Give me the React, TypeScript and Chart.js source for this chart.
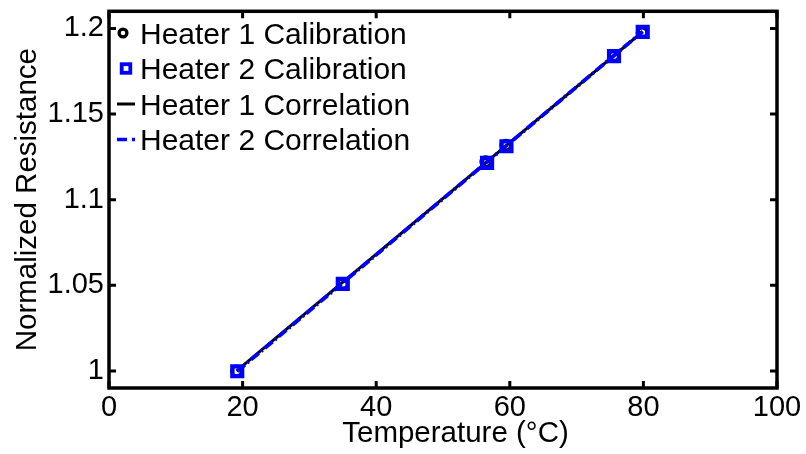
import React, { useEffect, useRef } from "react";
import { Chart, registerables } from "chart.js";

Chart.register(...registerables);

const FONT = '"Liberation Sans", Arial, Helvetica, sans-serif';
const TICK_SIZE = 29;
const TITLE_SIZE = 29.5;
const LEGEND_SIZE = 30;

// Calibration measurements (temperature in °C, normalized resistance)
const heater1Temp = [19.1, 35.0, 56.4, 59.4, 75.6, 79.8];
const heater1Res = [1.0, 1.051, 1.1222, 1.1318, 1.184, 1.1975];
const heater2Temp = [19.2, 35.0, 56.6, 59.5, 75.6, 79.9];
const heater2Res = [0.9998, 1.0508, 1.1215, 1.1312, 1.1838, 1.198];

// Linear correlation lines (end points)
const fit1Temp = [19.1, 79.8];
const fit1Res = [1.0, 1.1978];
const fit2Temp = [19.2, 79.9];
const fit2Res = [0.9998, 1.1982];

const seriesNames = [
  "Heater 1 Calibration",
  "Heater 2 Calibration",
  "Heater 1 Correlation",
  "Heater 2 Correlation",
];

const xTicks = [0, 20, 40, 60, 80, 100];
const yTicks = [1, 1.05, 1.1, 1.15, 1.2];
const xRange = [0, 100];
const yRange = [0.99, 1.21];
const xTitle = "Temperature (°C)";
const yTitle = "Normalized Resistance";

const BLUE = "#0000ff";

const toPoints = (xs: number[], ys: number[]) => xs.map((x, i) => ({ x, y: ys[i] }));

// Box frame with inward tick marks on all four sides, axis titles and legend
const framePlugin = {
  id: "frameAndLegend",
  afterDraw(chart: any) {
    const { ctx, chartArea: a, scales } = chart;
    const xs = scales.x;
    const ys = scales.y;
    ctx.save();
    ctx.strokeStyle = "#000";
    ctx.lineWidth = 3.5;
    ctx.lineJoin = "miter";
    ctx.strokeRect(a.left, a.top, a.right - a.left, a.bottom - a.top);

    const tl = 7;
    ctx.lineWidth = 3;
    ctx.lineCap = "butt";
    ctx.beginPath();
    xTicks.forEach((v) => {
      const px = xs.getPixelForValue(v);
      ctx.moveTo(px, a.bottom);
      ctx.lineTo(px, a.bottom - tl);
      ctx.moveTo(px, a.top);
      ctx.lineTo(px, a.top + tl);
    });
    yTicks.forEach((v) => {
      const py = ys.getPixelForValue(v);
      ctx.moveTo(a.left, py);
      ctx.lineTo(a.left + tl, py);
      ctx.moveTo(a.right, py);
      ctx.lineTo(a.right - tl, py);
    });
    ctx.stroke();

    // axis titles
    ctx.fillStyle = "#000";
    ctx.font = `${TITLE_SIZE}px ${FONT}`;
    ctx.textBaseline = "alphabetic";
    ctx.textAlign = "center";
    ctx.fillText(xTitle, 455.5, 442);
    ctx.save();
    ctx.translate(36, (a.top + a.bottom) / 2);
    ctx.rotate(-Math.PI / 2);
    ctx.fillText(yTitle, 0, 0);
    ctx.restore();

    // legend
    const rowY = [33, 68.5, 104, 139.5];
    const textX = 140;
    ctx.font = `${LEGEND_SIZE}px ${FONT}`;
    ctx.textAlign = "left";
    seriesNames.forEach((name, i) => {
      ctx.fillStyle = "#000";
      ctx.fillText(name, textX, rowY[i] + 10.6);
    });
    // circle marker
    ctx.strokeStyle = "#000";
    ctx.lineWidth = 3.3;
    ctx.beginPath();
    ctx.arc(123, rowY[0], 3.9, 0, Math.PI * 2);
    ctx.stroke();
    // square marker
    ctx.strokeStyle = BLUE;
    ctx.lineWidth = 3.8;
    ctx.strokeRect(121.7, rowY[1] - 4.3, 8.6, 8.6);
    // solid line
    ctx.strokeStyle = "#000";
    ctx.lineWidth = 3;
    ctx.beginPath();
    ctx.moveTo(117, rowY[2]);
    ctx.lineTo(135, rowY[2]);
    ctx.stroke();
    // dash-dot line
    ctx.strokeStyle = BLUE;
    ctx.lineWidth = 3.5;
    ctx.beginPath();
    ctx.moveTo(117, rowY[3]);
    ctx.lineTo(127, rowY[3]);
    ctx.moveTo(132, rowY[3]);
    ctx.lineTo(135, rowY[3]);
    ctx.stroke();
    ctx.restore();
  },
};

export default function App() {
  const canvasRef = useRef<HTMLCanvasElement | null>(null);

  useEffect(() => {
    if (!canvasRef.current) return;
    const chart = new Chart(canvasRef.current, {
      type: "scatter",
      data: {
        datasets: [
          {
            label: seriesNames[0],
            data: toPoints(heater1Temp, heater1Res),
            showLine: false,
            pointStyle: "circle",
            pointRadius: 4.8,
            pointBorderWidth: 3.2,
            borderColor: "#000",
            backgroundColor: "rgba(0,0,0,0)",
            order: 1,
          },
          {
            label: seriesNames[1],
            data: toPoints(heater2Temp, heater2Res),
            showLine: false,
            pointStyle: "rect",
            pointRadius: 6.9,
            pointBorderWidth: 4.4,
            borderColor: BLUE,
            backgroundColor: "rgba(0,0,0,0)",
            order: 0,
          },
          {
            label: seriesNames[2],
            data: toPoints(fit1Temp, fit1Res),
            showLine: true,
            pointRadius: 0,
            borderColor: "#000",
            borderWidth: 3,
            order: 3,
          },
          {
            label: seriesNames[3],
            data: toPoints(fit2Temp, fit2Res),
            showLine: true,
            pointRadius: 0,
            borderColor: BLUE,
            borderWidth: 3.8,
            borderDash: [10, 3, 2, 3],
            order: 2,
          },
        ],
      },
      options: {
        responsive: false,
        animation: false,
        devicePixelRatio: 1,
        layout: { padding: { left: 0, top: 9, right: 29, bottom: 0 } },
        plugins: {
          legend: { display: false },
          tooltip: { enabled: false },
        },
        scales: {
          x: {
            type: "linear",
            min: xRange[0],
            max: xRange[1],
            afterBuildTicks: (s: any) => {
              s.ticks = xTicks.map((v) => ({ value: v }));
            },
            afterFit: (s: any) => {
              s.height = 66;
              s.paddingLeft = 0;
              s.paddingRight = 0;
            },
            grid: { display: false, drawTicks: false },
            border: { display: false },
            ticks: {
              color: "#000",
              font: { family: FONT, size: TICK_SIZE },
              padding: 3,
              maxRotation: 0,
              autoSkip: false,
              callback: (v: any) => `${v}`,
            },
          },
          y: {
            type: "linear",
            min: yRange[0],
            max: yRange[1],
            afterBuildTicks: (s: any) => {
              s.ticks = yTicks.map((v) => ({ value: v }));
            },
            afterFit: (s: any) => {
              s.width = 109;
              s.paddingTop = 0;
              s.paddingBottom = 0;
            },
            grid: { display: false, drawTicks: false },
            border: { display: false },
            ticks: {
              color: "#000",
              font: { family: FONT, size: TICK_SIZE },
              padding: 5,
              autoSkip: false,
              callback: (v: any) => `${v}`,
            },
          },
        },
      },
      plugins: [framePlugin],
    });
    return () => chart.destroy();
  }, []);

  return (
    <div style={{ position: "fixed", left: 0, top: 0, width: 806, height: 454, background: "#fff" }}>
      <canvas ref={canvasRef} width={806} height={454} style={{ width: 806, height: 454, display: "block" }} />
    </div>
  );
}
